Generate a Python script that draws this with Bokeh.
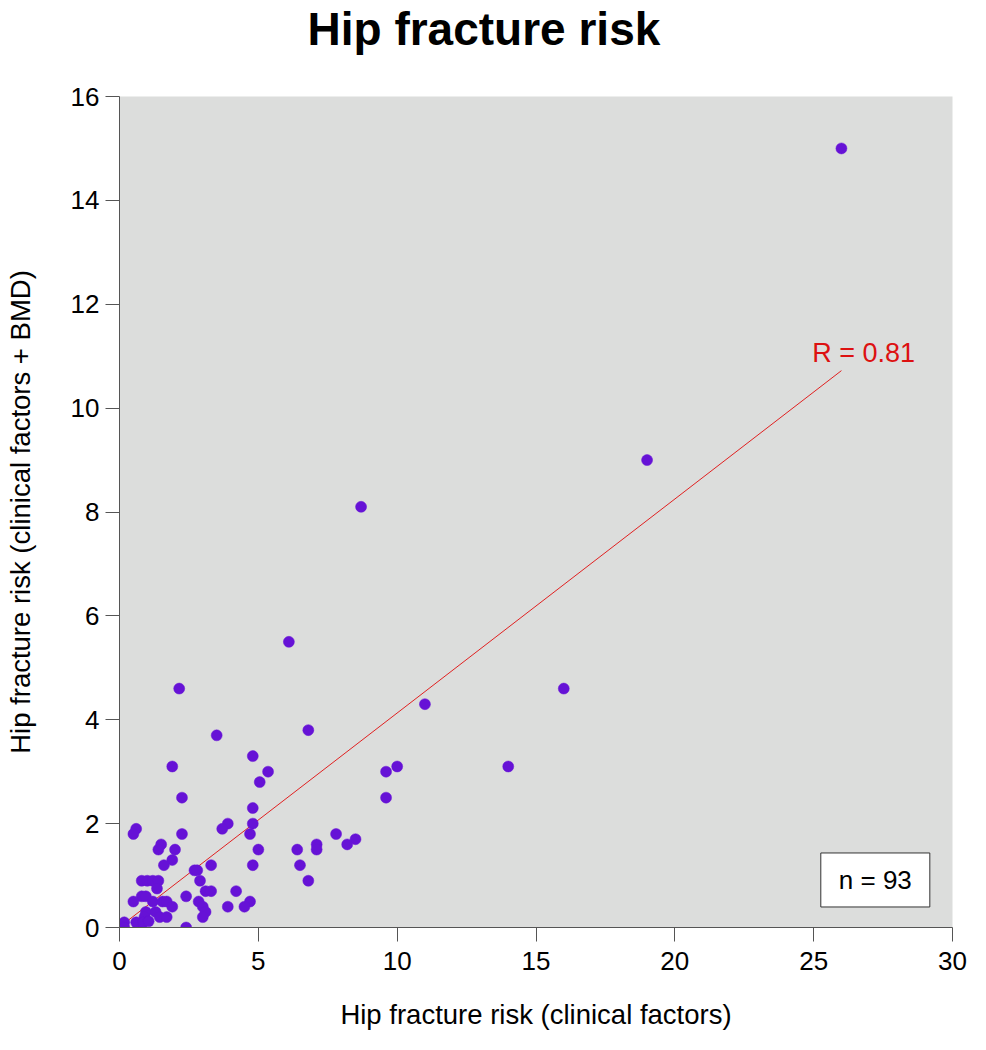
from bokeh.plotting import figure
from bokeh.models import Label, FixedTicker, Range1d, Title
from bokeh.embed import file_html
from bokeh.resources import INLINE

# Data
x_clinical = [26, 19, 8.7, 6.1, 16, 2.15, 11, 6.8, 3.5, 4.8, 14, 10, 1.9, 9.6, 5.35,
              5.05, 9.6, 2.25, 4.8, 3.9, 4.8, 3.7, 0.6, 0.5, 2.25, 4.7, 7.8, 8.5, 7.1, 8.2,
              1.5, 1.4, 2.0, 5.0, 6.4, 7.1, 1.9, 1.6, 3.3, 4.8, 6.5, 2.7, 2.8, 6.8, 2.9,
              0.8, 1.0, 1.2, 1.4, 1.35, 3.1, 3.3, 4.2, 0.8, 0.95, 2.4, 0.5, 1.2, 1.55, 1.7,
              2.85, 4.7, 1.9, 3.0, 3.9, 4.5, 0.95, 1.3, 3.1, 0.9, 1.45, 1.7, 3.0, 0.17, 0.17,
              0.6, 0.85, 1.05, 2.4]
y_bmd = [15, 9, 8.1, 5.5, 4.6, 4.6, 4.3, 3.8, 3.7, 3.3, 3.1, 3.1, 3.1, 3.0, 3.0,
         2.8, 2.5, 2.5, 2.3, 2.0, 2.0, 1.9, 1.9, 1.8, 1.8, 1.8, 1.8, 1.7, 1.6, 1.6,
         1.6, 1.5, 1.5, 1.5, 1.5, 1.5, 1.3, 1.2, 1.2, 1.2, 1.2, 1.1, 1.1, 0.9, 0.9,
         0.9, 0.9, 0.9, 0.9, 0.75, 0.7, 0.7, 0.7, 0.6, 0.6, 0.6, 0.5, 0.5, 0.5, 0.5,
         0.5, 0.5, 0.4, 0.4, 0.4, 0.4, 0.3, 0.3, 0.3, 0.2, 0.2, 0.2, 0.2, 0.1, 0.0,
         0.1, 0.1, 0.12, 0.0]

fit_slope = 0.412
fit_intercept = 0.01
fit_x = [0.15, 26.0]
fit_y = [fit_intercept + fit_slope * v for v in fit_x]

x_ticks = [0, 5, 10, 15, 20, 25, 30]
y_ticks = [0, 2, 4, 6, 8, 10, 12, 14, 16]

FONT = "Liberation Sans"

p = figure(width=970, height=1042, output_backend="svg", toolbar_location=None,
           x_range=Range1d(0, 30), y_range=Range1d(0, 16),
           min_border_left=119, min_border_right=18, min_border_top=96,
           min_border_bottom=115)

# spacer between title and plot area (closest to the frame)
p.add_layout(Title(text=" ", text_font_size="10px", standoff=29), "above")
# main title
p.add_layout(Title(text="Hip fracture risk", text_font=FONT, text_font_size="46px",
                   text_font_style="bold", text_color="black", align="left",
                   offset=188, standoff=0), "above")

p.background_fill_color = "#dcdddc"
p.border_fill_color = "white"
p.outline_line_color = None
p.grid.visible = False

for ax in (p.xaxis[0], p.yaxis[0]):
    ax.axis_line_color = "#555555"
    ax.major_tick_line_color = "#555555"
    ax.major_tick_out = 14
    ax.major_tick_in = 0
    ax.minor_tick_line_color = None
    ax.major_label_text_font = FONT
    ax.major_label_text_font_size = "26px"
    ax.major_label_text_color = "black"
    ax.axis_label_text_font = FONT
    ax.axis_label_text_font_size = "27.5px"
    ax.axis_label_text_font_style = "normal"
    ax.axis_label_text_color = "black"

p.xaxis.ticker = FixedTicker(ticks=x_ticks)
p.yaxis.ticker = FixedTicker(ticks=y_ticks)
p.xaxis.axis_label = "Hip fracture risk (clinical factors)"
p.yaxis.axis_label = "Hip fracture risk (clinical factors + BMD)"
p.xaxis.major_label_standoff = 10
p.yaxis.major_label_standoff = 6
p.xaxis.axis_label_standoff = 26
p.yaxis.axis_label_standoff = 32

p.line(fit_x, fit_y, line_color="#e02020", line_width=1)
p.scatter(x_clinical, y_bmd, size=11, fill_color="#6612d6", line_color="#6612d6",
          line_width=0.5)

r_label = Label(x=24.95, y=11.065, text="R = 0.81", text_font=FONT,
                text_font_size="27px", text_color="#dd1111",
                text_align="left", text_baseline="alphabetic")
p.add_layout(r_label)

n_label = Label(x=27.22, y=0.915, text="n = %d" % 93, text_font=FONT,
                text_font_size="26px", text_color="black",
                text_align="center", text_baseline="middle",
                background_fill_color="white", border_line_color="#333333",
                border_line_width=1, padding=(18, 12))
p.add_layout(n_label)

open("out.html", "w").write(file_html(p, INLINE))
